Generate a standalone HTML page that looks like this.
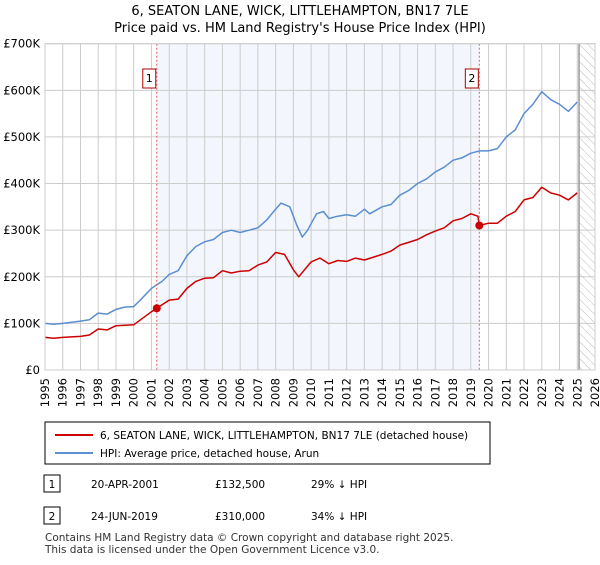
<!DOCTYPE html>
<html><head><meta charset="utf-8"><style>
body{margin:0;background:#fff;font-family:"Liberation Sans","DejaVu Sans",sans-serif;}
svg text{font-family:"DejaVu Sans","Liberation Sans",sans-serif;}
</style></head><body>
<svg id="c" width="600" height="560" viewBox="0 0 600 560" xmlns="http://www.w3.org/2000/svg">
<defs><pattern id="hatch" width="6" height="6" patternUnits="userSpaceOnUse" patternTransform="rotate(-45)"><line x1="0" y1="0" x2="0" y2="6" stroke="#bbb" stroke-width="1"/></pattern></defs>
<text x="300" y="15" text-anchor="middle" font-size="13" fill="#000">6, SEATON LANE, WICK, LITTLEHAMPTON, BN17 7LE</text>
<text x="300" y="32" text-anchor="middle" font-size="13" fill="#000">Price paid vs. HM Land Registry's House Price Index (HPI)</text>
<g id="plot"></g>
<rect x="45" y="422" width="445" height="42" fill="#fff" stroke="#000"/>
<line x1="55" y1="435" x2="93" y2="435" stroke="#cc0000" stroke-width="2"/>
<text x="100" y="439" font-size="10.5">6, SEATON LANE, WICK, LITTLEHAMPTON, BN17 7LE (detached house)</text>
<line x1="55" y1="453" x2="93" y2="453" stroke="#5b8fd0" stroke-width="2"/>
<text x="100" y="457" font-size="10.5">HPI: Average price, detached house, Arun</text>
<rect x="44" y="475" width="16" height="17" fill="#fff" stroke="#000"/>
<text x="52" y="488" font-size="10.5" text-anchor="middle">1</text>
<text x="91" y="488" font-size="10.5">20-APR-2001</text>
<text x="215" y="488" font-size="10.5">£132,500</text>
<text x="311" y="488" font-size="10.5">29% ↓ HPI</text>
<rect x="44" y="507" width="16" height="17" fill="#fff" stroke="#000"/>
<text x="52" y="520" font-size="10.5" text-anchor="middle">2</text>
<text x="91" y="520" font-size="10.5">24-JUN-2019</text>
<text x="215" y="520" font-size="10.5">£310,000</text>
<text x="311" y="520" font-size="10.5">34% ↓ HPI</text>
<text x="45" y="541" font-size="10.5" fill="#333">Contains HM Land Registry data © Crown copyright and database right 2025.</text>
<text x="45" y="553" font-size="10.5" fill="#333">This data is licensed under the Open Government Licence v3.0.</text>
</svg>
<script>
const yTicks=[0,100,200,300,400,500,600,700];
const yLabels=["£0","£100K","£200K","£300K","£400K","£500K","£600K","£700K"];
const xYears=[1995,1996,1997,1998,1999,2000,2001,2002,2003,2004,2005,2006,2007,2008,2009,2010,2011,2012,2013,2014,2015,2016,2017,2018,2019,2020,2021,2022,2023,2024,2025,2026];
const hpiT=[1995,1995.5,1996,1997,1997.5,1998,1998.5,1999,1999.5,2000,2000.5,2001,2001.3,2001.6,2002,2002.5,2003,2003.5,2004,2004.5,2005,2005.5,2006,2006.5,2007,2007.5,2008,2008.3,2008.8,2009.2,2009.5,2009.8,2010.3,2010.7,2011,2011.5,2012,2012.5,2013,2013.3,2014,2014.5,2015,2015.5,2016,2016.5,2017,2017.5,2018,2018.5,2019,2019.5,2020,2020.5,2021,2021.5,2022,2022.5,2023,2023.5,2024,2024.5,2025];
const hpiV=[100,98,100,105,108,122,120,130,135,136,155,175,183,190,205,213,245,265,275,280,295,300,295,300,305,322,345,358,350,310,285,300,335,340,325,330,333,330,345,335,350,355,375,385,400,410,425,435,450,455,465,470,470,475,500,515,550,570,597,580,570,555,575];
const redT=[1995,1995.5,1996,1997,1997.5,1998,1998.5,1999,1999.5,2000,2001,2001.3,2002,2002.5,2003,2003.5,2004,2004.5,2005,2005.5,2006,2006.5,2007,2007.5,2008,2008.5,2009,2009.3,2010,2010.5,2011,2011.5,2012,2012.5,2013,2014,2014.5,2015,2016,2016.5,2017,2017.5,2018,2018.5,2019,2019.4,2019.48,2020,2020.5,2021,2021.5,2022,2022.5,2023,2023.5,2024,2024.5,2025];
const redV=[70,68,70,72,75,88,86,95,96,97,125,132.5,150,152,175,190,197,198,213,208,212,213,225,232,252,248,215,200,232,240,228,235,233,240,236,248,255,268,280,290,298,305,320,325,335,330,310,315,315,330,340,365,370,392,380,375,365,380];
const sales=[{t:2001.3,v:132.5,label:"1"},{t:2019.48,v:310,label:"2"}];
const NS="http://www.w3.org/2000/svg";
const L=45,R=595,T=43.7,B=370;
const xs=t=>L+(t-1995)*(R-L)/31;
const ys=v=>B-v*(B-T)/700;
const g=document.getElementById('plot');
function mk(tag,attrs){const e=document.createElementNS(NS,tag);for(const k in attrs)e.setAttribute(k,attrs[k]);g.appendChild(e);return e;}
let r=mk('rect',{x:xs(sales[0].t),y:T,width:xs(sales[1].t)-xs(sales[0].t),height:B-T,fill:'#eef2fc',opacity:0.7});


let h=mk('rect',{x:xs(2025.1),y:T,width:R-xs(2025.1),height:B-T,fill:'url(#hatch)'});


xYears.forEach(y=>{const x=xs(y);let l=mk('line',{x1:x,x2:x,y1:T,y2:B,stroke:'#ccc'});


let t=mk('text',{x:0,y:0,'font-size':11.5,'text-anchor':'end',transform:`translate(${x+4},${B+8}) rotate(-90)`});t.textContent=y;

});
yTicks.forEach((v,i)=>{const y=ys(v);let l=mk('line',{x1:L,x2:R,y1:y,y2:y,stroke:'#ccc'});


let t=mk('text',{x:L-5,y:y+4,'font-size':11.5,'text-anchor':'end'});t.textContent=yLabels[i];

});
let vl=mk('line',{x1:xs(2025.1),x2:xs(2025.1),y1:T,y2:B,stroke:'#999','stroke-width':1.5});


function path(ts,vs,col,name){let d=ts.map((t,i)=>(i?'L':'M')+xs(t).toFixed(1)+','+ys(vs[i]).toFixed(1)).join('');
let p=mk('path',{d:d,fill:'none',stroke:col,'stroke-width':1.5,'stroke-linejoin':'round'});

}
path(hpiT,hpiV,'#5b8fd0','hpi-line');
path(redT,redV,'#cc0000','property-price-line');
sales.forEach(s=>{const x=xs(s.t);
let dl=mk('line',{x1:x,x2:x,y1:T,y2:B,stroke:'#e06060','stroke-dasharray':'2,2'});


let c=mk('circle',{cx:x,cy:ys(s.v),r:4,fill:'#cc0000'});


let b=mk('rect',{x:x-14,y:69,width:13,height:19,fill:'#fff',stroke:'#aa0000'});


let t=mk('text',{x:x-7.5,y:82,'font-size':11,'text-anchor':'middle'});t.textContent=s.label;

});
let fr=mk('rect',{x:L,y:T,width:R-L,height:B-T,fill:'none',stroke:'#ccc'});


</script>
</body></html>
